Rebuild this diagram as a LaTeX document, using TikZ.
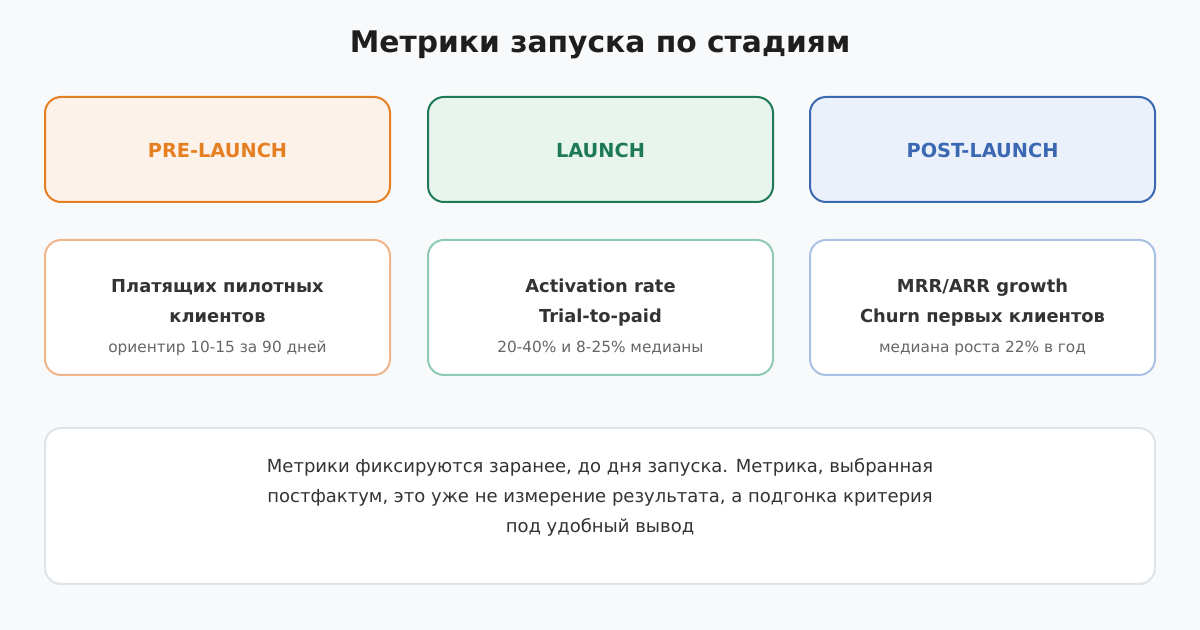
\documentclass[tikz,border=0pt]{standalone}
\usepackage{fontspec}
\setmainfont{DejaVu Sans}
\definecolor{nbg}{HTML}{F8F9FA}
\definecolor{ntitle}{HTML}{1E1E1E}
\definecolor{ntext}{HTML}{333333}
\definecolor{ngray}{HTML}{666666}
\definecolor{norange}{HTML}{E67E22}
\definecolor{norangefill}{HTML}{FDF2E9}
\definecolor{norangelite}{HTML}{F0B48A}
\definecolor{ngreen}{HTML}{1E7A56}
\definecolor{ngreenfill}{HTML}{E8F5EF}
\definecolor{ngreenlite}{HTML}{8FCBB0}
\definecolor{nblue}{HTML}{3A68B2}
\definecolor{nbluefill}{HTML}{EAF1FB}
\definecolor{nbluelite}{HTML}{A9C1E4}
\definecolor{nline}{HTML}{DCE4EA}

\begin{document}
\begin{tikzpicture}[x=0.75pt,y=-0.75pt]
    \tikzstyle{every node}=[inner sep=0,outer sep=0]
    \tikzstyle{stage}=[draw, rounded corners=12pt, line width=1.5pt, minimum width=258.75pt, minimum height=78.75pt]
    \tikzstyle{metric}=[draw, fill=white, rounded corners=12pt, line width=1.5pt, minimum width=258.75pt, minimum height=101.25pt]
    \tikzstyle{head}=[anchor=base, font=\fontsize{14.5}{17}\selectfont\bfseries]
    \tikzstyle{main}=[anchor=base, font=\fontsize{13.4}{16}\selectfont\bfseries, text=ntext]
    \tikzstyle{note}=[anchor=base, font=\fontsize{11.5}{14}\selectfont, text=ngray]
    \tikzstyle{rule}=[anchor=base, font=\fontsize{13.5}{16}\selectfont, text=ntext]
    \fill[nbg] (0,0) rectangle (1200,630);
    \useasboundingbox (0,0) rectangle (1200,630);
    \node[anchor=base, font=\fontsize{22.3}{26}\selectfont\bfseries, text=ntitle] (title) at (600,53) {Метрики запуска по стадиям};
    % stages
    \node[stage, draw=norange, fill=norangefill] (pre) at (217.5,149.5) {};
    \node[stage, draw=ngreen, fill=ngreenfill] (launch) at (600.5,149.5) {};
    \node[stage, draw=nblue, fill=nbluefill] (post) at (982.5,149.5) {};
    \node[head, text=norange] (prehead) at (217.5,158) {PRE-LAUNCH};
    \node[head, text=ngreen] (launchhead) at (600.5,158) {LAUNCH};
    \node[head, text=nblue] (posthead) at (982.5,158) {POST-LAUNCH};
    % metrics
    \node[metric, draw=norangelite] (prem) at (217.5,307.5) {};
    \node[metric, draw=ngreenlite] (launchm) at (600.5,307.5) {};
    \node[metric, draw=nbluelite] (postm) at (982.5,307.5) {};
    \node[main] (prea) at (217.5,293) {Платящих пилотных};
    \node[main] (preb) at (217.5,323) {клиентов};
    \node[note] (prec) at (217.5,353) {ориентир 10-15 за 90 дней};
    \node[main] (launcha) at (600.5,293) {Activation rate};
    \node[main] (launchb) at (600.5,323) {Trial-to-paid};
    \node[note] (launchc) at (600.5,353) {20-40\% и 8-25\% медианы};
    \node[main] (posta) at (982.5,293) {MRR/ARR growth};
    \node[main] (postb) at (982.5,323) {Churn первых клиентов};
    \node[note] (postc) at (982.5,353) {медиана роста 22\% в год};
    % footer
    \node[draw=nline, fill=white, rounded corners=12pt, line width=1.5pt, minimum width=832.5pt, minimum height=117pt] (box) at (600,506) {};
    \node[rule] (rulea) at (600,473) {Метрики фиксируются заранее, до дня запуска. Метрика, выбранная};
    \node[rule] (ruleb) at (600,503) {постфактум, это уже не измерение результата, а подгонка критерия};
    \node[rule] (rulec) at (600,533) {под удобный вывод};
\end{tikzpicture}
\end{document}
